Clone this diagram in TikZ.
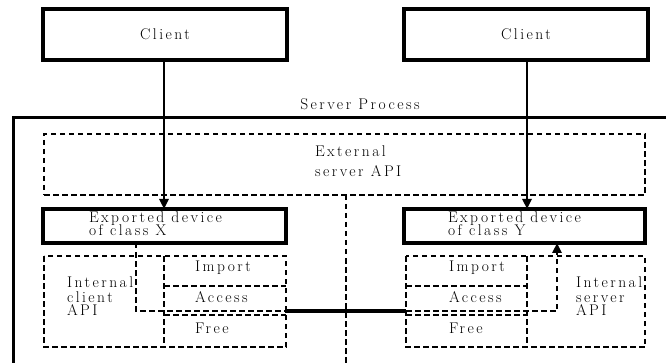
\documentclass[tikz,border=0pt]{standalone}
\usepackage{fontspec}
\newfontfamily\diagfont{Latin Modern Roman}[LetterSpace=16]
\usetikzlibrary{arrows.meta}
\begin{document}
\begin{tikzpicture}[x=1pt,y=-1pt,
  lbl/.style={inner sep=0pt, outer sep=0pt,
    font=\diagfont\fontsize{15.5pt}{12pt}\selectfont},
  txt/.style={lbl, anchor=base west},
  sbox/.style={draw, line width=3.2pt, inner sep=0pt, outer sep=0pt, lbl},
  cell/.style={inner sep=0pt, outer sep=0pt},
  dline/.style={line width=2.9pt, dash pattern=on 5.5pt off 3.5pt},
  dbox/.style={cell, draw, dline},
  arr/.style={line width=2.8pt, -{Triangle[length=10pt,width=9pt]}},
]
\useasboundingbox (0,0) rectangle (666,363);
\clip (0,0) rectangle (666,363);

% clients
\node[sbox, minimum width=244pt, minimum height=51pt] (clientL) at (165,34.5) {Client};
\node[sbox, minimum width=244pt, minimum height=51pt] (clientR) at (526,34.5) {Client};

% server process frame (runs past the right and bottom edges)
\node[draw, line width=3pt, cell, anchor=north west,
  minimum width=700pt, minimum height=300pt] (server) at (13,118) {};
\node[lbl, anchor=base] (servertitle) at (360,110) {Server Process};

% external server API
\node[dbox, minimum width=601pt, minimum height=61pt] (ext) at (344.5,164.5) {};
\node[txt] (extA) at (315,157) {External};
\node[txt] (extB) at (315,177) {server API};
\draw[dline] (ext.south -| 346,0) -- (346,380);

% exported devices
\node[sbox, minimum width=243pt, minimum height=34pt] (expX) at (164.5,226) {};
\node[txt] (expXa) at (89,222.5) {Exported device};
\node[txt] (expXb) at (89,236) {of class X};
\node[sbox, minimum width=241pt, minimum height=34pt] (expY) at (524.5,226) {};
\node[txt] (expYa) at (448,222.5) {Exported device};
\node[txt] (expYb) at (448,236) {of class Y};

% client side cells
\node[cell, minimum width=120pt, minimum height=91pt] (intC) at (104,301.5) {};
\node[cell, minimum width=122pt, minimum height=30pt] (impL) at (225,271) {};
\node[cell, minimum width=122pt, minimum height=29pt] (accL) at (225,300.5) {};
\node[cell, minimum width=122pt, minimum height=32pt] (freeL) at (225,331) {};
\draw[dline] (intC.north west) rectangle (freeL.south east);
\draw[dline] (intC.north east) -- (intC.south east);
\draw[dline] (impL.south west) -- (impL.south east);
\draw[dline] (accL.south west) -- (accL.south east);
\node[txt] (intCa) at (67,287) {Internal};
\node[txt] (intCb) at (67,302) {client};
\node[txt] (intCc) at (67,315) {API};
\node[txt] (impLt) at (195,272) {Import};
\node[txt] (accLt) at (195,302) {Access};
\node[txt] (freeLt) at (195,333) {Free};

% server side cells
\node[cell, minimum width=121pt, minimum height=30pt] (impR) at (466.5,271) {};
\node[cell, minimum width=121pt, minimum height=29pt] (accR) at (466.5,300.5) {};
\node[cell, minimum width=121pt, minimum height=32pt] (freeR) at (466.5,331) {};
\node[cell, minimum width=118pt, minimum height=91pt] (intS) at (586,301.5) {};
\draw[dline] (impR.north west) rectangle (intS.south east);
\draw[dline] (intS.north west) -- (intS.south west);
\draw[dline] (impR.south west) -- (impR.south east);
\draw[dline] (accR.south west) -- (accR.south east);
\node[txt] (impRt) at (449,272) {Import};
\node[txt] (accRt) at (449,302) {Access};
\node[txt] (freeRt) at (449,333) {Free};
\node[txt] (intSa) at (576,287) {Internal};
\node[txt] (intSb) at (576,302) {server};
\node[txt] (intSc) at (576,315) {API};

% client requests into the exported devices
\draw[arr] (clientL.south -| 164,0) -- (expX.north -| 164,0);
\draw[arr] (clientR.south -| 527,0) -- (expY.north -| 527,0);

% call path from device X to device Y
\coordinate (xa) at (136,311);
\coordinate (xb) at (285,311);
\coordinate (ya) at (406,311);
\coordinate (yb) at (557,311);
\draw[dline] (expX.south -| xa) -- (xa) -- (xb);
\draw[line width=4pt] (xb) -- (ya);
\draw[dline, -{Triangle[length=10pt,width=9pt]}] (ya) -- (yb) -- (expY.south -| yb);
\end{tikzpicture}
\end{document}
